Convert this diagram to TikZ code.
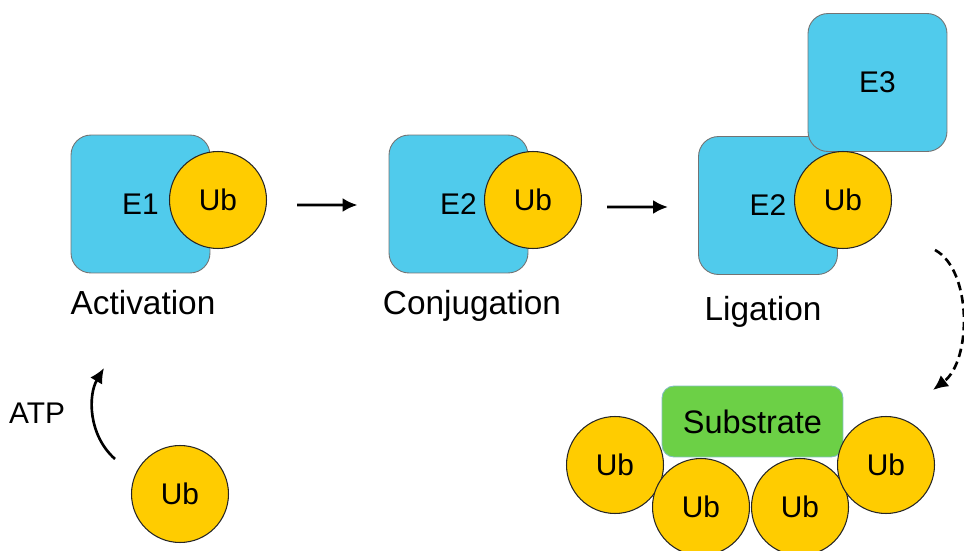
\documentclass[tikz,border=0pt]{standalone}
\usepackage{fontspec}
\setmainfont{Liberation Sans}
\usetikzlibrary{arrows.meta,
                positioning}

\definecolor{enzblue}{RGB}{80,203,236}
\definecolor{ubyellow}{RGB}{255,204,0}
\definecolor{subgreen}{RGB}{108,208,70}

\tikzset{
  enzyme/.style={draw=black!55, line width=0.5pt, fill=enzblue,
                 rounded corners=0.4cm, minimum width=2.78cm, minimum height=2.76cm,
                 inner sep=0pt, font=\fontsize{17}{20}\selectfont},
  ubq/.style={circle, draw=black!85, line width=0.6pt, fill=ubyellow,
              minimum size=1.94cm, inner sep=0pt, font=\fontsize{17}{20}\selectfont},
  substrate/.style={draw=teal!50, line width=0.5pt, fill=subgreen,
                    rounded corners=0.24cm, minimum width=3.62cm, minimum height=1.42cm,
                    font=\fontsize{18.5}{22}\selectfont},
  steplbl/.style={anchor=base, font=\fontsize{19}{22}\selectfont},
  flow/.style={->, line width=1.7pt}
}

\begin{document}
\begin{tikzpicture}[x=0.02cm, y=-0.02cm, >={Latex[length=3mm,width=2.8mm]}]
\useasboundingbox (0,0) rectangle (964,551);

% activation
\node (e1)  [enzyme] at (140.5,204) {E1};
\node (ub1) [ubq] at (218,200) {Ub};
\node (act) [steplbl] at (143,314) {Activation};

% conjugation
\node (e2a) [enzyme] at (458.5,204) {E2};
\node (ub2) [ubq] at (533,200) {Ub};
\node (conj) [steplbl] at (472,314) {Conjugation};

% ligation
\node (e2b) [enzyme] at (768,205.5) {E2};
\node (e3)  [enzyme] at (877.5,82.5) {E3};
\node (ub3) [ubq] at (843,200) {Ub};
\node (lig) [steplbl] at (763,320) {Ligation};

\draw[flow] ([xshift=0.6cm,yshift=-0.1cm]ub1.east) -- ([xshift=-0.62cm,yshift=-0.02cm]e2a.west);
\draw[flow] ([xshift=0.5cm,yshift=-0.14cm]ub2.east) -- ([xshift=-0.6cm,yshift=-0.03cm]e2b.west);

% free ubiquitin
\node (ubfree) [ubq] at (180,494) {Ub};
\node (atp) [font=\fontsize{17}{20}\selectfont] at (37,413) {ATP};
\coordinate (atpS) at (115,459);
\coordinate (atpE) at (104,368);
\draw[flow, line width=1.5pt] (atpS) .. controls (88,435) and (88,395) .. (atpE);

% ubiquitinated substrate
\node (sub) [substrate] at (752.5,421.5) {Substrate};
\node (c1) [ubq] at (615,465) {Ub};
\node (c2) [ubq] at (701,507) {Ub};
\node (c3) [ubq] at (800,507) {Ub};
\node (c4) [ubq] at (886,465) {Ub};

\coordinate (ligS) at (935,250);
\coordinate (ligE) at (933,390);
\draw[flow, line width=1.5pt, dash pattern=on 0.17cm off 0.1cm]
  (ligS) .. controls (972,270) and (972,360) .. (ligE);

\end{tikzpicture}
\end{document}
